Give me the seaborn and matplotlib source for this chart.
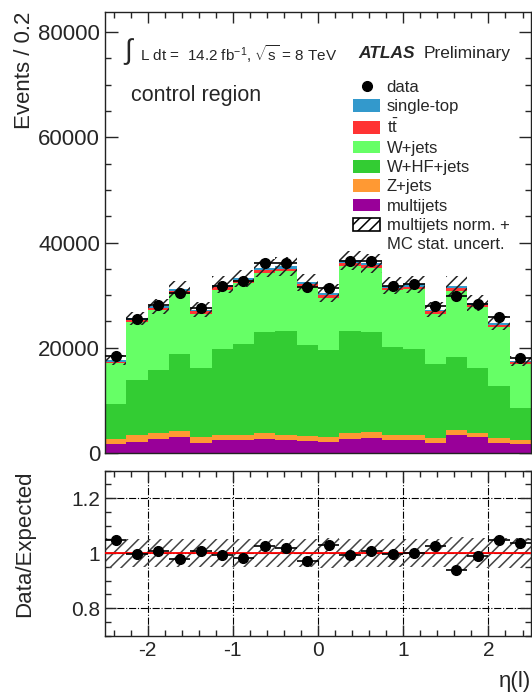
import numpy as np
import pandas as pd
import matplotlib
matplotlib.use("Agg")
import matplotlib.pyplot as plt
import seaborn as sns
from matplotlib.lines import Line2D
from matplotlib.patches import Patch
from matplotlib.ticker import MultipleLocator, FormatStrFormatter

# eta(l) binning: 20 bins of 0.25 from -2.5 to 2.5
edges = np.linspace(-2.5, 2.5, 21)
centers = 0.5 * (edges[:-1] + edges[1:])

data = [18450, 25500, 28150, 30400, 27500, 31800, 32600, 36080, 36150, 31540,
        31410, 36400, 36400, 31660, 32040, 28000, 29760, 28250, 25840, 18100]
multijets = [1700, 2150, 2590, 3100, 1960, 2460, 2460, 2710, 2460, 2270,
             2150, 2590, 2780, 2460, 2460, 1960, 3410, 2970, 1960, 1700]
zjets = [950, 1260, 1140, 1130, 1010, 950, 950, 1020, 950, 950,
         820, 1140, 1140, 950, 950, 820, 950, 890, 950, 760]
whfjets = [6640, 10430, 12130, 14540, 13090, 16310, 17380, 19270, 19780, 17250,
           16560, 19460, 19080, 16750, 16440, 14090, 13900, 12200, 9790, 6130]
wjets = [7760, 10960, 11240, 11430, 10380, 11330, 11510, 11200, 11310, 11080,
         10020, 12430, 12100, 10740, 11280, 9580, 12540, 11670, 11250, 8310]
ttbar = [300, 450, 450, 500, 450, 500, 500, 550, 550, 500,
         500, 550, 550, 500, 500, 450, 500, 450, 400, 300]
singletop = [250, 350, 350, 400, 350, 400, 400, 450, 450, 400,
             400, 450, 450, 400, 400, 350, 400, 350, 300, 250]
rel_unc = [0.055, 0.05, 0.05, 0.05, 0.05, 0.05, 0.05, 0.05, 0.05, 0.05,
           0.055, 0.05, 0.05, 0.05, 0.05, 0.05, 0.06, 0.055, 0.055, 0.055]

processes = ["single-top", "ttbar", "W+jets", "W+HF+jets", "Z+jets", "multijets"]
colors = {"single-top": "#3399cc", "ttbar": "#ff3333", "W+jets": "#66ff66",
          "W+HF+jets": "#33cc33", "Z+jets": "#ff9933", "multijets": "#990099"}
values = {"single-top": singletop, "ttbar": ttbar, "W+jets": wjets,
          "W+HF+jets": whfjets, "Z+jets": zjets, "multijets": multijets}

df = pd.concat([pd.DataFrame({"eta": centers, "events": values[p], "process": p})
                for p in processes], ignore_index=True)

total = np.sum([np.array(values[p], float) for p in processes], axis=0)
data = np.array(data, float)
unc = np.array(rel_unc) * total
ratio = data / total

sns.set_theme(style="ticks")
plt.rcParams["font.family"] = ["Liberation Sans", "DejaVu Sans"]
plt.rcParams["mathtext.fontset"] = "custom"
plt.rcParams["mathtext.rm"] = "Liberation Sans"
plt.rcParams["mathtext.it"] = "Liberation Sans:italic"
plt.rcParams["mathtext.bf"] = "Liberation Sans:bold"
plt.rcParams["axes.unicode_minus"] = False
plt.rcParams["hatch.linewidth"] = 1.1

fig = plt.figure(figsize=(5.32, 6.95), dpi=100)
ax1 = fig.add_axes([0.1974, 0.3482, 0.8008, 0.6345])
ax2 = fig.add_axes([0.1974, 0.0853, 0.8008, 0.2374])

# stacked MC
sns.histplot(data=df, x="eta", weights="events", hue="process", hue_order=processes,
             palette=colors, bins=edges.tolist(), multiple="stack", element="step",
             fill=True, alpha=1, linewidth=0, legend=False, ax=ax1)

# uncertainty band
ax1.stairs(total + unc, edges, baseline=total - unc, fill=True, facecolor="none",
           edgecolor="#222222", hatch="///", linewidth=0, zorder=3)

ax1.errorbar(centers, data, xerr=0.125, yerr=np.sqrt(data), fmt="o", color="black",
             markersize=7, elinewidth=1.2, capsize=0, zorder=5)

ax1.set_xlim(-2.5, 2.5)
ax1.set_ylim(0, 83800)
ax1.set_xlabel("")
ax1.set_ylabel("Events / 0.2", fontsize=16, loc="top")
ax1.yaxis.set_label_coords(-0.165, 1.0)
ax1.xaxis.set_major_locator(MultipleLocator(1))
ax1.xaxis.set_minor_locator(MultipleLocator(0.2))
ax1.yaxis.set_major_locator(MultipleLocator(20000))
ax1.yaxis.set_minor_locator(MultipleLocator(5000))
ax1.tick_params(axis="both", which="both", direction="in", top=True, right=True,
                labelbottom=False)
ax1.tick_params(axis="y", which="major", length=9, width=1, labelsize=16)
ax1.tick_params(axis="y", which="minor", length=4.5, width=1)
ax1.tick_params(axis="x", which="major", length=8, width=1)
ax1.tick_params(axis="x", which="minor", length=4, width=1)

ax1.text(0.043, 0.91, r"$\int$", transform=ax1.transAxes, fontsize=20, va="center")
ax1.text(0.083, 0.905, r"L dt =  14.2 fb$^{-1}$, $\sqrt{\mathrm{s}}$ = 8 TeV",
         transform=ax1.transAxes, fontsize=11, va="center")
ax1.text(0.595, 0.905, "ATLAS", transform=ax1.transAxes, fontsize=12.5,
         fontweight="bold", fontstyle="italic", va="center")
ax1.text(0.749, 0.905, "Preliminary", transform=ax1.transAxes, fontsize=12.5, va="center")
ax1.text(0.06, 0.81, "control region", transform=ax1.transAxes, fontsize=15.5, va="center")

handles = [Line2D([], [], marker="o", color="black", ls="none", markersize=7)]
labels = ["data"]
legend_names = {"single-top": "single-top", "ttbar": r"$\mathrm{t\bar{t}}$",
                "W+jets": "W+jets", "W+HF+jets": "W+HF+jets", "Z+jets": "Z+jets",
                "multijets": "multijets"}
for p in processes:
    handles.append(Patch(facecolor=colors[p], edgecolor="none"))
    labels.append(legend_names[p])
handles.append(Patch(facecolor="white", edgecolor="black", hatch="///", linewidth=1.2))
labels.append("multijets norm. +")
handles.append(Patch(visible=False))
labels.append("MC stat. uncert.")
ax1.legend(handles, labels, loc="upper left", bbox_to_anchor=(0.583, 0.847),
           frameon=False, fontsize=12, handlelength=1.6, handleheight=0.8,
           handletextpad=0.4, labelspacing=0.25, borderpad=0, borderaxespad=0)

# ratio panel
ax2.stairs(1 + np.array(rel_unc), edges, baseline=1 - np.array(rel_unc), fill=True,
           facecolor="none", edgecolor="#444444", hatch="///", linewidth=0, zorder=2)
ax2.axhline(1.0, color="red", lw=1.3, zorder=3)
ax2.errorbar(centers, ratio, xerr=0.125, yerr=np.sqrt(data) / total, fmt="o",
             color="black", markersize=7, elinewidth=1.2, capsize=0, zorder=5)
ax2.set_xlim(-2.5, 2.5)
ax2.set_ylim(0.7, 1.3)
ax2.xaxis.set_major_locator(MultipleLocator(1))
ax2.xaxis.set_minor_locator(MultipleLocator(0.2))
ax2.yaxis.set_major_locator(MultipleLocator(0.2))
ax2.yaxis.set_minor_locator(MultipleLocator(0.05))
ax2.yaxis.set_major_formatter(FormatStrFormatter("%g"))
ax2.xaxis.set_major_formatter(FormatStrFormatter("%g"))
ax2.grid(True, which="major", ls="-.", color="black", lw=0.8, zorder=1)
ax2.tick_params(axis="both", which="both", direction="in", top=True, right=True)
ax2.tick_params(axis="both", which="major", length=8, width=1, labelsize=15)
ax2.tick_params(axis="both", which="minor", length=4, width=1)
ax2.set_ylabel("Data/Expected", fontsize=16, loc="top")
ax2.yaxis.set_label_coords(-0.165, 1.0)
ax2.set_xlabel(r"η(l)", fontsize=16, loc="right", labelpad=8)

for ax in (ax1, ax2):
    for s in ax.spines.values():
        s.set_linewidth(1.0)
        s.set_color("#222222")

fig.savefig("out.png", dpi=100)
